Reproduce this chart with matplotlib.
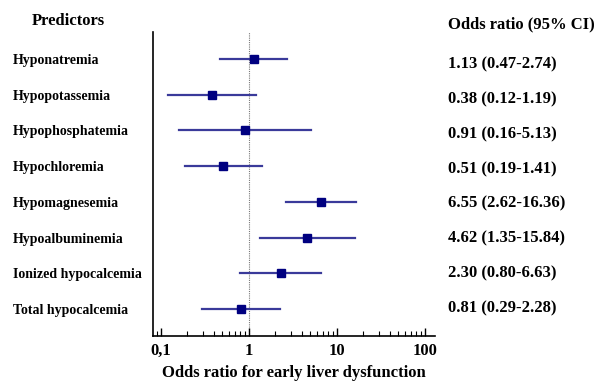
import matplotlib.pyplot as plt
from matplotlib.ticker import LogLocator, NullFormatter

plt.rcParams['font.family'] = ['Liberation Serif', 'DejaVu Serif']
plt.rcParams['font.weight'] = 'bold'

# data
predictors = ['Hyponatremia', 'Hypopotassemia', 'Hypophosphatemia', 'Hypochloremia',
              'Hypomagnesemia', 'Hypoalbuminemia', 'Ionized hypocalcemia', 'Total hypocalcemia']
odds = [1.13, 0.38, 0.91, 0.51, 6.55, 4.62, 2.30, 0.81]
ci_low = [0.47, 0.12, 0.16, 0.19, 2.62, 1.35, 0.80, 0.29]
ci_high = [2.74, 1.19, 5.13, 1.41, 16.36, 15.84, 6.63, 2.28]
or_labels = ['1.13 (0.47-2.74)', '0.38 (0.12-1.19)', '0.91 (0.16-5.13)', '0.51 (0.19-1.41)',
             '6.55 (2.62-16.36)', '4.62 (1.35-15.84)', '2.30 (0.80-6.63)', '0.81 (0.29-2.28)']
xticks = [0.1, 1, 10, 100]
xtick_labels = ['0,1', '1', '10', '100']

fig = plt.figure(figsize=(6.02, 3.83), dpi=100)
ax = fig.add_axes([0.254, 0.1227, 0.4686, 0.7937])

ypos = [-i for i in range(len(predictors))]
line_col = '#3a3a9a'
mark_col = '#000080'

ax.axvline(1, color='#777777', linestyle=(0, (1, 1)), linewidth=0.8, zorder=1)
for y, o, lo, hi in zip(ypos, odds, ci_low, ci_high):
    ax.plot([lo, hi], [y, y], color=line_col, linewidth=1.6, zorder=2)
ax.plot(odds, ypos, linestyle='none', marker='s', markersize=5.5, color=mark_col, zorder=3)

ax.set_xscale('log')
ax.set_xlim(0.081, 130)
ax.set_ylim(-7.756, 0.756)

ax.spines['top'].set_visible(False)
ax.spines['right'].set_visible(False)
ax.spines['left'].set_linewidth(1.2)
ax.spines['bottom'].set_linewidth(1.2)
ax.set_yticks([])

ax.set_xticks(xticks)
ax.set_xticklabels(xtick_labels, fontsize=12, fontweight='bold')
ax.xaxis.set_minor_locator(LogLocator(base=10, subs=range(2, 10)))
ax.xaxis.set_minor_formatter(NullFormatter())
ax.tick_params(axis='x', which='major', direction='in', length=6, width=1, pad=5)
ax.tick_params(axis='x', which='minor', direction='in', length=3.5, width=0.8)
ax.set_xlabel('Odds ratio for early liver dysfunction', fontsize=12, fontweight='bold', labelpad=4)

for y, name, lab in zip(ypos, predictors, or_labels):
    ax.text(-0.496, y, name, transform=ax.get_yaxis_transform(), ha='left', va='center_baseline',
            fontsize=10, fontweight='bold')
    # right column sits on a slightly tighter grid than the rows
    ax.text(1.045, y * 0.975 - 0.1, lab, transform=ax.get_yaxis_transform(), ha='left',
            va='center_baseline', fontsize=12, fontweight='bold')

fig.text(0.053, 0.945, 'Predictors', ha='left', va='center', fontsize=12, fontweight='bold')
fig.text(0.744, 0.937, 'Odds ratio (95% CI)', ha='left', va='center', fontsize=12, fontweight='bold')

fig.savefig('out.png', dpi=100)
